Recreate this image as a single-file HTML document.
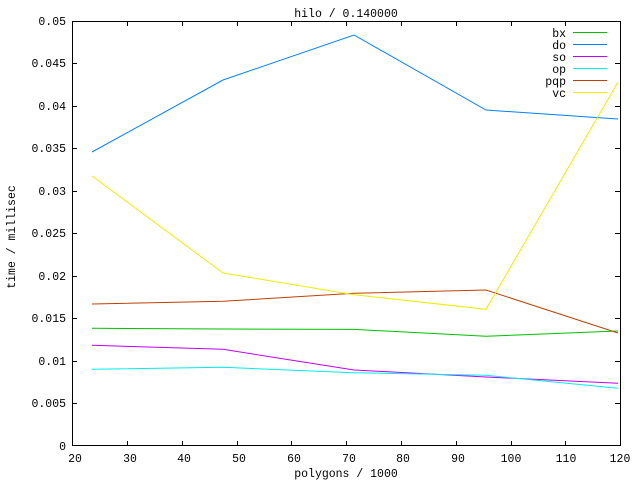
<!DOCTYPE html>
<html><head><meta charset="utf-8"><style>
html,body{margin:0;padding:0;background:#fff}
svg{display:block}
text{font-family:"Liberation Mono","DejaVu Sans Mono",monospace;font-size:11.5px;fill:#000}
</style></head><body>
<svg width="640" height="480" viewBox="0 0 640 480" xmlns="http://www.w3.org/2000/svg" shape-rendering="crispEdges">
<rect width="640" height="480" fill="#fff"/>
<text x="346" y="17" text-anchor="middle">hilo / 0.140000</text>
<g stroke="#000" stroke-width="1" fill="none">
<rect x="72.5" y="21.5" width="548" height="424"/>
<path d="M127.5 446v-5M127.5 21v5M182.5 446v-5M182.5 21v5M237.5 446v-5M237.5 21v5M291.5 446v-5M291.5 21v5M346.5 446v-5M346.5 21v5M401.5 446v-5M401.5 21v5M456.5 446v-5M456.5 21v5M511.5 446v-5M511.5 21v5M565.5 446v-5M565.5 21v5"/>
<path d="M72 403.5h5M620 403.5h-5M72 361.5h5M620 361.5h-5M72 318.5h5M620 318.5h-5M72 276.5h5M620 276.5h-5M72 233.5h5M620 233.5h-5M72 191.5h5M620 191.5h-5M72 148.5h5M620 148.5h-5M72 106.5h5M620 106.5h-5M72 63.5h5M620 63.5h-5"/>
</g>
<g text-anchor="end">
<text x="66" y="450">0</text><text x="66" y="407">0.005</text><text x="66" y="365">0.01</text><text x="66" y="322">0.015</text><text x="66" y="280">0.02</text><text x="66" y="237">0.025</text><text x="66" y="195">0.03</text><text x="66" y="152">0.035</text><text x="66" y="110">0.04</text><text x="66" y="67">0.045</text><text x="66" y="25">0.05</text>
</g>
<g text-anchor="middle">
<text x="75" y="462">20</text><text x="130" y="462">30</text><text x="184" y="462">40</text><text x="239" y="462">50</text><text x="294" y="462">60</text><text x="349" y="462">70</text><text x="403" y="462">80</text><text x="458" y="462">90</text><text x="511" y="462">100</text><text x="566" y="462">110</text><text x="620" y="462">120</text>
<text x="346" y="477">polygons / 1000</text>
<text transform="translate(15,237) rotate(-90)">time / millisec</text>
</g>
<g text-anchor="end">
<text x="566" y="37">bx</text><text x="566" y="49">do</text><text x="566" y="61">so</text><text x="566" y="73">op</text><text x="566" y="85">pqp</text><text x="566" y="97">vc</text>
</g>
<g fill="none" stroke-width="1" shape-rendering="auto">
<path d="M573 32.5h34" stroke="#00c000"/>
<path d="M573 44.5h34" stroke="#0080ff"/>
<path d="M573 56.5h34" stroke="#c000ff"/>
<path d="M573 68.5h34" stroke="#00eeee"/>
<path d="M573 80.5h34" stroke="#c04000"/>
<path d="M573 92.5h34" stroke="#eeee00"/>
<polyline stroke="#00c000" points="92,328.3 223,329 354,329.4 486,336.3 618,331"/>
<polyline stroke="#0080ff" points="92,152 223,80 354,35 486,110 618,119"/>
<polyline stroke="#c000ff" points="92,345.3 223,349.3 354,370 486,377 618,383.3"/>
<polyline stroke="#00eeee" points="92,369.3 223,367.3 354,372.7 486,375.3 618,388.3"/>
<polyline stroke="#c04000" points="92,304 223,301.3 354,293.3 486,290 618,333"/>
<polyline stroke="#eeee00" points="92,176 223,273 354,294.7 486,309.3 618,82"/>
</g>
</svg>
</body></html>
